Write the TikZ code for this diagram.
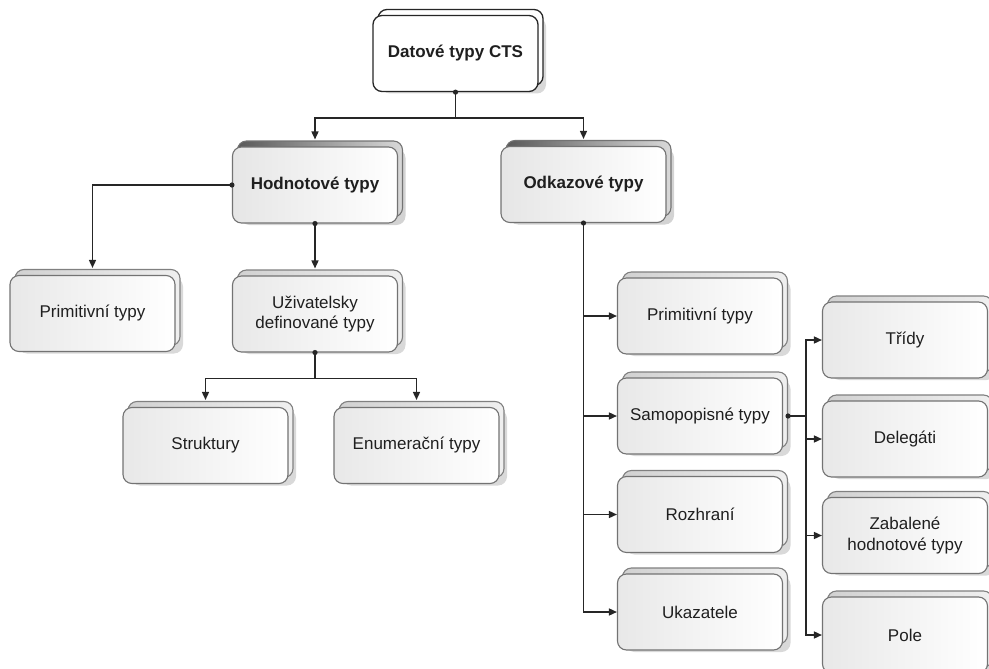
\documentclass[tikz,border=0pt]{standalone}
\usepackage{fontspec}
\setmainfont{Liberation Sans}
\usetikzlibrary{arrows.meta,shadows,calc}
\tikzset{
  cardbase/.style={rectangle, rounded corners=9pt, minimum width=165pt, minimum height=76pt,
    inner sep=0pt, align=center, text=black!88, font=\fontsize{17}{20.5}\selectfont},
  leafback/.style={cardbase, draw=black!50, line width=1.1pt, left color=black!18, right color=black!6,
    drop shadow={shadow xshift=3pt, shadow yshift=-8pt, opacity=.3}},
  leaffront/.style={cardbase, draw=black!55, line width=1.1pt, left color=black!9, middle color=white, right color=white},
  midback/.style={cardbase, draw=black!55, line width=1.1pt, left color=black!65, right color=black!15,
    drop shadow={shadow xshift=3pt, shadow yshift=-8pt, opacity=.35}},
  midfront/.style={cardbase, draw=black!55, line width=1.1pt, left color=black!10, middle color=white, right color=white,
    font=\fontsize{17}{20.5}\selectfont\bfseries},
  topback/.style={cardbase, draw=black!85, line width=1.3pt, fill=white,
    drop shadow={shadow xshift=3pt, shadow yshift=-8pt, opacity=.3}},
  topfront/.style={cardbase, draw=black!85, line width=1.3pt, fill=white,
    font=\fontsize{17}{20.5}\selectfont\bfseries},
  conn/.style={draw=black!85, line width=1.5pt},
  arr/.style={conn, -{Triangle[length=8pt,width=7pt]}},
  dotc/.style={fill=black!85}
}
\newcommand\cardbox[4]{%
  \node[#1back, xshift=5pt, yshift=6pt] (#2-b) at (#3) {};
  \node[#1front] (#2) at (#3) {#4};
}
\begin{document}
\begin{tikzpicture}[x=1pt,y=-1pt]
\useasboundingbox (0,0) rectangle (989,669);
\cardbox{top}{cts}{455.5,53.5}{Datové typy CTS}
\cardbox{mid}{hod}{315,185}{Hodnotové typy}
\cardbox{mid}{odk}{583.5,184.5}{Odkazové typy}
\cardbox{leaf}{prim1}{92.5,313.5}{Primitivní typy}
\cardbox{leaf}{uziv}{315,314}{Uživatelsky\\definované typy}
\cardbox{leaf}{str}{205.5,445.5}{Struktury}
\cardbox{leaf}{enum}{416.5,445.5}{Enumerační typy}
\cardbox{leaf}{rp}{700,316}{Primitivní typy}
\cardbox{leaf}{samo}{700,416}{Samopopisné typy}
\cardbox{leaf}{roz}{700,514.5}{Rozhraní}
\cardbox{leaf}{uka}{700,612}{Ukazatele}
\cardbox{leaf}{tri}{905,340}{Třídy}
\cardbox{leaf}{del}{905,439}{Delegáti}
\cardbox{leaf}{zab}{905,535.5}{Zabalené\\hodnotové typy}
\cardbox{leaf}{pole}{905,635}{Pole}

% top level
\coordinate (j1) at ($(cts.south)+(0,26)$);
\draw[conn] (cts.south) -- (j1);
\draw[arr] (j1) -| ([yshift=7pt]hod.north);
\draw[arr] (j1) -| ([yshift=7pt]odk.north);
\fill[dotc] (cts.south) circle (2.6pt);

% Hodnotove
\draw[arr] (hod.west) -| ([yshift=7pt]prim1.north);
\fill[dotc] (hod.west) circle (2.6pt);
\draw[arr] (hod.south) -- ([yshift=7pt]uziv.north);
\fill[dotc] (hod.south) circle (2.6pt);

% Uzivatelsky
\coordinate (j2) at ($(uziv.south)+(0,26)$);
\draw[conn] (uziv.south) -- (j2);
\draw[arr] (j2) -| ([yshift=7pt]str.north);
\draw[arr] (j2) -| ([yshift=7pt]enum.north);
\fill[dotc] (uziv.south) circle (2.6pt);

% Odkazove
\draw[arr] (odk.south) |- (rp.west);
\draw[arr] (odk.south) |- (samo.west);
\draw[arr] (odk.south) |- (roz.west);
\draw[arr] (odk.south) |- (uka.west);
\fill[dotc] (odk.south) circle (2.6pt);

% Samopopisne
\coordinate (sd) at ([xshift=5pt]samo.east);
\coordinate (j3) at ($(samo.east)+(23,0)$);
\draw[conn] (sd) -- (j3);
\draw[arr] (j3) |- (tri.west);
\draw[arr] (j3) |- (del.west);
\draw[arr] (j3) |- (zab.west);
\draw[arr] (j3) |- (pole.west);
\fill[dotc] (sd) circle (2.6pt);
\end{tikzpicture}
\end{document}
